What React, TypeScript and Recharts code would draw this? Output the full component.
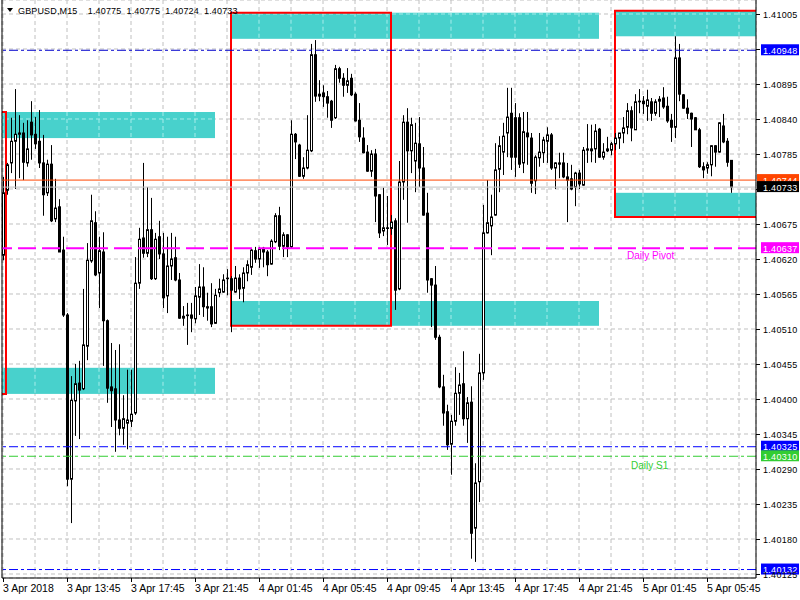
import React from 'react';
import { ComposedChart, Bar, XAxis, YAxis, CartesianGrid, ReferenceLine, ReferenceArea } from 'recharts';

// GBPUSD M15 candles, prices in points (1 point = 0.00001)
const POINT = 0.00001;
const openPts = [140626,140728,140771,140805,140816,140818,140771,140835,140816,140805,140771,140724,140769,140683,140702,140634,140532,140274,140397,140425,140416,140483,140617,140677,140598,140631,140523,140419,140416,140367,140354,140362,140365,140378,140582,140653,140629,140666,140589,140655,140628,140562,140609,140622,140587,140527,140531,140532,140526,140560,140576,140545,140545,140519,140567,140568,140590,140589,140568,140590,140574,140598,140607,140633,140620,140637,140631,140612,140647,140688,140640,140658,140639,140816,140799,140750,140763,140790,140941,140879,140881,140875,140868,140842,140919,140904,140893,140904,140879,140838,140810,140788,140758,140785,140721,140664,140669,140668,140680,140573,140741,140835,140790,140774,140801,140763,140692,140589,140579,140497,140419,140380,140329,140365,140409,140424,140369,140395,140197,140270,140441,140661,140672,140689,140761,140788,140818,140849,140842,140842,140771,140818,140810,140743,140779,140787,140805,140815,140763,140771,140771,140749,140746,140733,140755,140736,140791,140793,140793,140824,140780,140793,140791,140801,140810,140818,140827,140853,140823,140868,140868,140860,140867,140849,140868,140873,140860,140838,140827,140936,140878,140857,140849,140842,140823,140765,140763,140768,140798,140788,140829,140805,140775];
const highPts = [140749,140771,140842,140887,140846,140834,140838,140868,140843,140854,140815,140776,140799,140746,140714,140655,140535,140436,140455,140460,140573,140645,140721,140695,140655,140662,140525,140488,140477,140486,140406,140446,140446,140623,140669,140771,140733,140716,140661,140680,140661,140655,140661,140655,140598,140546,140551,140551,140576,140612,140607,140567,140582,140573,140589,140596,140604,140593,140609,140596,140607,140618,140637,140639,140639,140639,140634,140651,140692,140702,140662,140659,140838,140818,140801,140780,140846,140958,140964,140901,140893,140884,140870,140925,140922,140912,140920,140911,140882,140865,140827,140799,140791,140793,140722,140732,140719,140689,140684,140774,140846,140857,140842,140834,140843,140796,140724,140590,140609,140501,140438,140391,140375,140450,140441,140475,140403,140420,140299,140471,140705,140744,140721,140802,140813,140834,140889,140889,140865,140849,140851,140851,140818,140783,140818,140812,140827,140818,140772,140787,140787,140771,140768,140757,140760,140796,140832,140831,140832,140826,140802,140812,140804,140818,140818,140843,140865,140860,140879,140887,140876,140886,140873,140871,140876,140890,140875,140848,140970,140958,140879,140871,140850,140843,140826,140772,140772,140799,140799,140835,140848,140810,140775];
const lowPts = [140618,140721,140755,140730,140747,140744,140765,140776,140793,140763,140688,140719,140678,140678,140631,140529,140263,140205,140342,140337,140414,140461,140614,140593,140543,140452,140394,140356,140317,140343,140328,140321,140356,140375,140573,140622,140623,140587,140587,140620,140543,140535,140587,140585,140526,140515,140485,140505,140519,140532,140529,140523,140513,140518,140560,140567,140563,140505,140567,140557,140552,140585,140595,140614,140606,140607,140593,140611,140645,140634,140623,140623,140637,140777,140749,140746,140761,140788,140867,140868,140859,140842,140826,140840,140897,140875,140881,140876,140836,140804,140786,140757,140749,140678,140653,140656,140642,140658,140540,140571,140713,140677,140755,140725,140733,140688,140567,140513,140493,140417,140358,140320,140281,140358,140375,140358,140331,140149,140144,140238,140430,140660,140626,140688,140725,140752,140780,140760,140749,140763,140755,140768,140724,140722,140765,140771,140771,140760,140730,140747,140747,140678,140728,140703,140730,140735,140771,140772,140771,140779,140776,140788,140783,140791,140793,140802,140816,140805,140823,140849,140848,140837,140837,140845,140843,140856,140834,140804,140810,140868,140856,140840,140796,140823,140763,140747,140754,140750,140765,140787,140802,140765,140724];
const closePts = [140724,140768,140805,140816,140818,140772,140793,140815,140801,140771,140721,140769,140680,140700,140631,140532,140274,140398,140424,140414,140485,140618,140680,140595,140633,140523,140417,140413,140367,140354,140369,140367,140376,140582,140651,140629,140666,140589,140651,140628,140559,140609,140620,140587,140527,140530,140532,140527,140562,140576,140545,140543,140518,140563,140573,140587,140589,140571,140590,140573,140598,140611,140634,140620,140636,140631,140611,140648,140688,140640,140658,140639,140816,140804,140750,140763,140791,140941,140876,140876,140875,140865,140838,140919,140904,140893,140900,140878,140837,140812,140787,140758,140785,140719,140661,140669,140668,140678,140571,140741,140835,140790,140831,140802,140763,140689,140587,140579,140497,140419,140378,140328,140365,140409,140422,140369,140394,140189,140268,140441,140661,140677,140686,140760,140798,140813,140843,140780,140780,140769,140820,140812,140739,140780,140788,140807,140815,140763,140771,140769,140749,140744,140730,140755,140738,140791,140793,140790,140821,140780,140788,140790,140801,140810,140818,140826,140853,140826,140867,140867,140864,140870,140849,140867,140871,140859,140837,140827,140936,140879,140857,140849,140840,140823,140765,140760,140768,140798,140788,140834,140804,140772,140733];

const symbolTitle = 'GBPUSD,M15';

// time axis: candle index -> labels (every 16 bars = 4 hours), grid every 8 bars
const timeTickIdx = [0, 16, 32, 48, 64, 80, 96, 112, 128, 144, 160, 176];
const timeTickLabels = ['3 Apr 2018', '3 Apr 13:45', '3 Apr 17:45', '3 Apr 21:45', '4 Apr 01:45', '4 Apr 05:45', '4 Apr 09:45', '4 Apr 13:45', '4 Apr 17:45', '4 Apr 21:45', '5 Apr 01:45', '5 Apr 05:45'];
const gridTickIdx = [0, 8, 16, 24, 32, 40, 48, 56, 64, 72, 80, 88, 96, 104, 112, 120, 128, 136, 144, 152, 160, 168, 176, 184];

// price axis
const priceTicks = [1.41005, 1.4095, 1.40895, 1.4084, 1.40785, 1.4073, 1.40675, 1.4062, 1.40565, 1.4051, 1.40455, 1.404, 1.40345, 1.4029, 1.40235, 1.4018, 1.40125];
const hiddenPriceLabels = [1.4095, 1.4073];

// supply / demand zones (bar index range, price range)
const zoneStart = [-3, -3, 57, 57, 153, 153];
const zoneEnd = [53, 53, 149, 149, 200, 200];
const zoneLow = [1.4081, 1.40408, 1.40966, 1.40515, 1.4097, 1.40686];
const zoneHigh = [1.40851, 1.40449, 1.41007, 1.40554, 1.4101, 1.40724];

// red boxes
const boxStart = [-6, 57, 153];
const boxEnd = [0.75, 97, 200];
const boxLow = [1.40408, 1.40515, 1.40686];
const boxHigh = [1.40851, 1.41007, 1.4101];

// horizontal levels
const levelValues = [1.40948, 1.40744, 1.40733, 1.40637, 1.40325, 1.4031, 1.40132];
const levelNames = ['', '', '', 'Daily Pivot', '', 'Daily S1', ''];

const rows = openPts.map((o, i) => ({
  i,
  open: o * POINT,
  high: highPts[i] * POINT,
  low: lowPts[i] * POINT,
  close: closePts[i] * POINT,
}));

const FONT = '"Liberation Sans", Arial, sans-serif';

const levelStroke = ['#0000CD', '#FF4500', '#C0C0C0', '#FF00FF', '#0000FF', '#32CD32', '#0000FF'];
const levelTag = ['#0000FF', '#FF4500', '#000000', '#FF00FF', '#0000FF', '#32CD32', '#0000FF'];
const levelDash = ['9 3 3 3', undefined, undefined, '18 6', '9 3 3 3', '9 3 3 3', '9 3 3 3'];
const levelWidth = [1, 1, 1, 2, 1, 1, 1];
const levelTextColor = ['#000', '#000', '#000', '#FF00FF', '#000', '#32CD32', '#000'];
const tagLeft = [5, 1, 1, 5, 5, 5, 5];
const nameOffsetX = [0, 0, 0, 625, 0, 629, 0];
const nameOffsetY = [0, 0, 0, 11, 0, 12.5, 0];

const Candle = (props: any) => {
  const { x, y, width, height, payload } = props;
  if (!payload) return null;
  const { open, high, low, close } = payload;
  const cx = Math.round(x + width / 2);
  const yTop = height >= 0 ? y : y + height;
  const h = Math.abs(height);
  const range = high - low;
  const py = (v: number) => (range > 0 ? yTop + ((high - v) / range) * h : yTop);
  const yo = py(open);
  const yc = py(close);
  const top = Math.min(yo, yc);
  const bot = Math.max(yo, yc);
  const bull = close >= open;
  return (
    <g>
      <line x1={cx + 0.5} x2={cx + 0.5} y1={yTop} y2={yTop + h} stroke="#000" strokeWidth={1} />
      {bull ? (
        <rect x={cx - 0.5} y={top} width={2} height={Math.max(bot - top, 0.01)} fill="#fff" stroke="#000" strokeWidth={1} />
      ) : (
        <rect x={cx - 1} y={top - 0.5} width={3} height={Math.max(bot - top, 0) + 1} fill="#000" />
      )}
    </g>
  );
};

// zone rectangle; grid lines inside the zone show through in a light tint
const makeZoneShape = (k: number) => (props: any) => {
  const { x, y, width, height, clipPath } = props;
  const top = height >= 0 ? y : y + height;
  const h = Math.abs(height);
  const left = width >= 0 ? x : x + width;
  const w = Math.abs(width);
  const sx = (v: number) => left + ((v - zoneStart[k]) / (zoneEnd[k] - zoneStart[k])) * w;
  const sy = (p: number) => top + ((zoneHigh[k] - p) / (zoneHigh[k] - zoneLow[k])) * h;
  return (
    <g clipPath={clipPath}>
      <rect x={left} y={top} width={w} height={h} fill="#48D1CC" />
      {gridTickIdx
        .filter((v) => v > zoneStart[k] && v < zoneEnd[k])
        .map((v) => (
          <line key={'v' + v} x1={sx(v)} x2={sx(v)} y1={top} y2={top + h} stroke="#A6ECEA" strokeDasharray="4 3" />
        ))}
      {priceTicks
        .filter((p) => p > zoneLow[k] && p < zoneHigh[k])
        .map((p) => (
          <line key={'h' + p} x1={left} x2={left + w} y1={sy(p)} y2={sy(p)} stroke="#A6ECEA" strokeDasharray="4 3" />
        ))}
    </g>
  );
};

const PriceTick = (props: any) => {
  const { x, y, payload } = props;
  const v = payload.value;
  const hide = hiddenPriceLabels.some((h) => Math.abs(h - v) < 1e-7);
  return (
    <g>
      <line x1={x} x2={x + 4} y1={y + 0.5} y2={y + 0.5} stroke="#000" strokeWidth={1} />
      {!hide && (
        <text x={x + 7} y={y + 4} fill="#000" fontSize={9} letterSpacing={0.3} fontFamily={FONT}>
          {v.toFixed(5)}
        </text>
      )}
    </g>
  );
};

const TimeTick = (props: any) => {
  const { x, y, payload } = props;
  const k = timeTickIdx.indexOf(payload.value);
  if (k < 0) return <g />;
  return (
    <g>
      <line x1={x + 0.5} x2={x + 0.5} y1={y} y2={y + 4} stroke="#000" strokeWidth={1} />
      <text x={x} y={y + 14} fill="#000" fontSize={10.5} fontFamily={FONT}>
        {timeTickLabels[k]}
      </text>
    </g>
  );
};

const makeTag = (k: number) => (props: any) => {
  const vb = props.viewBox || {};
  const x0 = (vb.x || 0) + (vb.width || 0);
  const y0 = vb.y || 0;
  return (
    <g>
      <rect x={x0 + tagLeft[k]} y={y0 - 6} width={43 - tagLeft[k]} height={11} fill={levelTag[k]} />
      <text x={x0 + 7} y={y0 + 3.5} fill="#fff" fontSize={9} letterSpacing={0.3} fontFamily={FONT}>
        {levelValues[k].toFixed(5)}
      </text>
      {levelNames[k] && (
        <text x={(vb.x || 0) + nameOffsetX[k]} y={y0 + nameOffsetY[k]} fill={levelTextColor[k]} fontSize={10} fontFamily={FONT}>
          {levelNames[k]}
        </text>
      )}
    </g>
  );
};

export default function App() {
  const last = rows.length - 1;
  const title = `${symbolTitle}  ${rows[last].open.toFixed(5)} ${rows[last].high.toFixed(5)} ${rows[last].low.toFixed(5)} ${rows[last].close.toFixed(5)}`;
  return (
    <div style={{ position: 'relative', width: 800, height: 600, background: '#fff' }}>
      <style>{'body{margin:0;}'}</style>
      <ComposedChart width={800} height={600} data={rows} margin={{ top: 0, right: 0, bottom: 0, left: 2 }}>
        <CartesianGrid stroke="#C0C0C0" strokeDasharray="4 3" />
        {zoneStart.map((s, k) => (
          <ReferenceArea key={'z' + k} x1={s} x2={zoneEnd[k]} y1={zoneLow[k]} y2={zoneHigh[k]} fill="#48D1CC" fillOpacity={1} stroke="none" ifOverflow="hidden" shape={makeZoneShape(k)} />
        ))}
        <XAxis
          dataKey="i"
          type="number"
          domain={[-0.25, 188.25]}
          allowDataOverflow
          ticks={gridTickIdx}
          interval={0}
          tick={<TimeTick />}
          tickLine={false}
          tickSize={0}
          tickMargin={0}
          height={22}
          axisLine={{ stroke: '#000' }}
        />
        <YAxis
          orientation="right"
          type="number"
          domain={[1.401187, 1.41027]}
          allowDataOverflow
          ticks={priceTicks}
          interval={0}
          tick={<PriceTick />}
          tickLine={false}
          tickSize={0}
          tickMargin={0}
          width={44}
          axisLine={{ stroke: '#000' }}
        />
        {boxStart.map((s, k) => (
          <ReferenceArea key={'b' + k} x1={s} x2={boxEnd[k]} y1={boxLow[k]} y2={boxHigh[k]} fill="none" fillOpacity={0} stroke="#FF0000" strokeWidth={2} ifOverflow="hidden" />
        ))}
        {levelValues.map((v, k) => (
          <ReferenceLine key={'l' + k} y={v} stroke={levelStroke[k]} strokeWidth={levelWidth[k]} strokeDasharray={levelDash[k]} ifOverflow="visible" label={makeTag(k)} />
        ))}
        <Bar dataKey={(d: any) => [d.low, d.high]} barSize={3} shape={<Candle />} isAnimationActive={false} />
        <ReferenceLine x={-0.25} stroke="#000" ifOverflow="visible" />
      </ComposedChart>
      <svg style={{ position: 'absolute', left: 0, top: 0 }} width={16} height={16}>
        <polygon points="7,8 13,8 10,12" fill="#000" />
      </svg>
      <div style={{ position: 'absolute', left: 18, top: 6, fontFamily: FONT, fontSize: 9, letterSpacing: '0.15px', wordSpacing: '2.5px', color: '#000', whiteSpace: 'pre', lineHeight: '10px' }}>
        {title}
      </div>
    </div>
  );
}
